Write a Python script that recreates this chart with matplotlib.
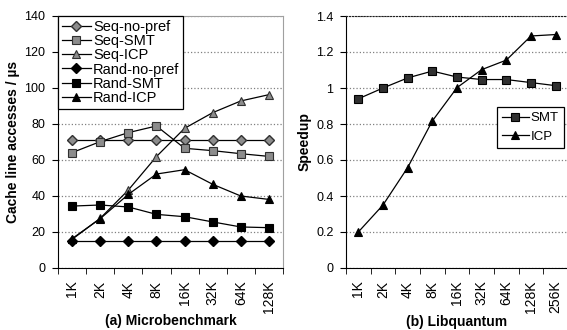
import matplotlib
matplotlib.use('Agg')
import matplotlib.pyplot as plt
import numpy as np

plt.rcParams['font.family'] = ['Liberation Sans', 'DejaVu Sans']
plt.rcParams['font.size'] = 8.5

# (a) Microbenchmark
sizes_a = ['1K', '2K', '4K', '8K', '16K', '32K', '64K', '128K']
seq_nopref = [71, 71, 71, 71, 71, 71, 71, 71]
seq_smt = [64.1, 70.2, 75.2, 78.9, 66.5, 65.2, 63.5, 62.0]
seq_icp = [15.9, 27.6, 43.3, 61.9, 77.6, 86.3, 92.8, 96.3]
rand_nopref = [14.8, 14.8, 14.8, 14.8, 14.8, 14.8, 14.8, 14.8]
rand_smt = [34.4, 35.0, 33.9, 29.8, 28.5, 25.6, 22.8, 22.4]
rand_icp = [16.3, 27.4, 40.9, 52.2, 54.6, 46.5, 40.0, 38.1]

# (b) Libquantum
sizes_b = ['1K', '2K', '4K', '8K', '16K', '32K', '64K', '128K', '256K']
smt_speedup = [0.94, 1.0, 1.056, 1.094, 1.061, 1.047, 1.047, 1.03, 1.013]
icp_speedup = [0.2, 0.35, 0.558, 0.817, 1.002, 1.102, 1.155, 1.289, 1.297]

fig = plt.figure(figsize=(5.67, 3.30), dpi=100)
ax1 = fig.add_axes([58/567, 1-268/330, 225/567, 252/330])
ax2 = fig.add_axes([346/567, 1-268/330, 222/567, 252/330])

gray = '#8c8c8c'
edge = '#303030'


def style_axis(ax, labels):
    n = len(labels)
    ax.set_xlim(-0.5, n - 0.5)
    ax.set_xticks(np.arange(n))
    ax.set_xticklabels(labels, rotation=90, fontsize=10)
    ax.set_xticks(np.arange(n + 1) - 0.5, minor=True)
    ax.tick_params(axis='x', which='major', length=0, pad=9)
    ax.tick_params(axis='x', which='minor', length=4, direction='out')
    ax.tick_params(axis='y', length=4, direction='out', labelsize=9, pad=5)
    ax.yaxis.grid(True, linestyle=':', color='#808080', linewidth=0.9)
    ax.set_axisbelow(True)


x = np.arange(len(sizes_a))
kw = dict(color='black', linewidth=0.9, markersize=6, markeredgewidth=0.8)
ax1.plot(x, seq_nopref, marker='D', markersize=5, markerfacecolor=gray, markeredgecolor=edge,
         color='black', linewidth=0.9, label='Seq-no-pref')
ax1.plot(x, seq_smt, marker='s', markerfacecolor=gray, markeredgecolor=edge, label='Seq-SMT', **kw)
ax1.plot(x, seq_icp, marker='^', markerfacecolor=gray, markeredgecolor=edge, label='Seq-ICP', **kw)
ax1.plot(x, rand_nopref, marker='D', markersize=5, markerfacecolor='black', markeredgecolor='black',
         color='black', linewidth=0.9, label='Rand-no-pref')
ax1.plot(x, rand_smt, marker='s', markerfacecolor='black', markeredgecolor='black', label='Rand-SMT', **kw)
ax1.plot(x, rand_icp, marker='^', markerfacecolor='black', markeredgecolor='black', label='Rand-ICP', **kw)

style_axis(ax1, sizes_a)
ax1.set_ylim(0, 140)
ax1.set_yticks(range(0, 141, 20))
ax1.spines['top'].set_color('#a0a0a0')
ax1.spines['right'].set_color('#a0a0a0')
ax1.set_ylabel('Cache line accesses / µs', fontweight='bold', fontsize=10, labelpad=3)
ax1.set_xlabel('(a) Microbenchmark', fontweight='bold', fontsize=10, labelpad=1)
leg1 = ax1.legend(loc='upper left', borderaxespad=0, fancybox=False, framealpha=1,
                  edgecolor='black', handlelength=2.0, labelspacing=0.02, borderpad=0.25,
                  handletextpad=0.15, fontsize=10.5)
leg1.get_frame().set_linewidth(0.9)

xb = np.arange(len(sizes_b))
ax2.plot(xb, smt_speedup, marker='s', markerfacecolor='#303030', markeredgecolor='black',
         label='SMT', **kw)
ax2.plot(xb, icp_speedup, marker='^', markerfacecolor='black', markeredgecolor='black',
         label='ICP', **kw)
style_axis(ax2, sizes_b)
ax2.set_ylim(0, 1.4)
ax2.set_yticks(np.arange(0, 1.41, 0.2))
ax2.set_yticklabels(['0', '0.2', '0.4', '0.6', '0.8', '1', '1.2', '1.4'])
ax2.spines['right'].set_visible(False)
ax2.spines['top'].set_linestyle(':')
ax2.spines['top'].set_color('#202020')
ax2.set_ylabel('Speedup', fontweight='bold', fontsize=10, labelpad=3)
ax2.set_xlabel('(b) Libquantum', fontweight='bold', fontsize=10, labelpad=1)
leg2 = ax2.legend(loc='upper left', bbox_to_anchor=(0.68, 0.64), borderaxespad=0,
                  fancybox=False, framealpha=1, edgecolor='black', handlelength=2.0,
                  labelspacing=0.5, borderpad=0.4, handletextpad=0.15, fontsize=9.5)
leg2.get_frame().set_linewidth(0.9)

fig.savefig('out.png', dpi=100)
